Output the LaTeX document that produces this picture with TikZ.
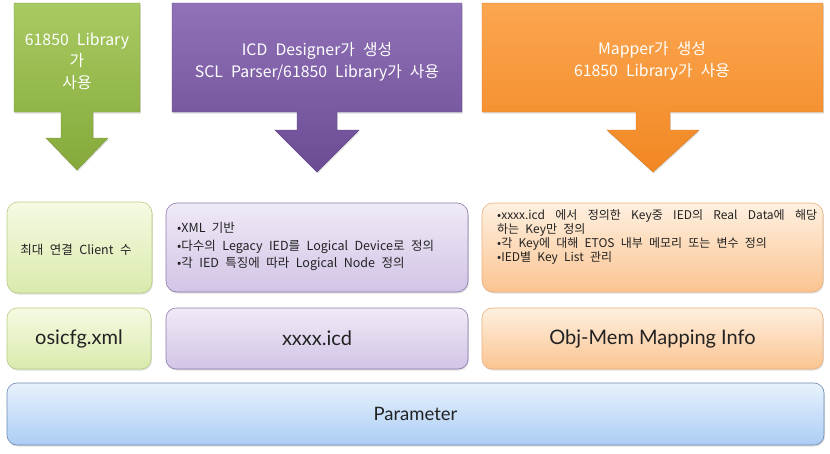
\documentclass[tikz,border=0pt]{standalone}
\usepackage{fontspec}
\setmainfont{Noto Sans CJK KR}
\newfontfamily\krfont[WordSpace=1.5]{Noto Sans CJK KR}
\newfontfamily\krwide[WordSpace=2.3]{Noto Sans CJK KR}
\newfontfamily\latfont{Lato}
\usetikzlibrary{shadows}
\definecolor{gTop}{HTML}{A8CA62}
\definecolor{gBot}{HTML}{85A93A}
\definecolor{pTop}{HTML}{9172B8}
\definecolor{pBot}{HTML}{6B4C94}
\definecolor{oTop}{HTML}{FCA651}
\definecolor{oBot}{HTML}{F18722}
\definecolor{glTop}{HTML}{F5FAE2}
\definecolor{glBot}{HTML}{DAEAAD}
\definecolor{glBd}{HTML}{B7CD85}
\definecolor{plTop}{HTML}{F0EAF7}
\definecolor{plBot}{HTML}{D2C4E6}
\definecolor{plBd}{HTML}{8C7AAC}
\definecolor{olTop}{HTML}{FEF0E0}
\definecolor{olBot}{HTML}{FBC491}
\definecolor{olBd}{HTML}{E8B07C}
\definecolor{blTop}{HTML}{E8F2FD}
\definecolor{blBot}{HTML}{ABCDF4}
\definecolor{blBd}{HTML}{6D89AE}
\definecolor{txt}{HTML}{222222}
\tikzset{
  shad/.style={drop shadow={shadow xshift=0.8pt,shadow yshift=-1.5pt,opacity=0.25}},
  callg/.style={top color=gTop,bottom color=gBot,draw=gBot!90!black,line width=0.4pt,shad},
  callp/.style={top color=pTop,bottom color=pBot,draw=pBot!90!black,line width=0.4pt,shad},
  callo/.style={top color=oTop,bottom color=oBot,draw=oBot!90!black,line width=0.4pt,shad},
  headtext/.style={text=white,align=center,font=\krfont\fontsize{15.8}{21.5}\selectfont},
  rbox/.style={rounded corners=11pt,line width=0.6pt,shad,inner sep=0pt},
  gbox/.style={rbox,top color=glTop,bottom color=glBot,draw=glBd},
  pbox/.style={rbox,top color=plTop,bottom color=plBot,draw=plBd},
  obox/.style={rbox,top color=olTop,bottom color=olBot,draw=olBd},
  bbox/.style={rbox,top color=blTop,bottom color=blBot,draw=blBd},
  midtext/.style={text=txt,align=left,inner sep=0pt,font=\krwide\fontsize{12.5}{17.5}\selectfont},
  bottext/.style={text=txt,font=\latfont\fontsize{20}{24}\selectfont}
}
\begin{document}
\begin{tikzpicture}[x=1pt,y=-1pt]
\useasboundingbox (0,0) rectangle (830,453);
\fill[white] (0,0) rectangle (830,453);
% callouts
\path[callg] (14,3) -- (140,3) -- (140,112) -- (93,112) -- (93,138) -- (108,138) -- (77,170)
  -- (46,138) -- (61,138) -- (61,112) -- (14,112) -- cycle;
\path[callp] (172,3) -- (462,3) -- (462,112) -- (337,112) -- (337,130) -- (359,130) -- (317,172)
  -- (275,130) -- (297,130) -- (297,112) -- (172,112) -- cycle;
\path[callo] (482,3) -- (823,3) -- (823,112) -- (670,112) -- (670,130) -- (699,130) -- (653,172)
  -- (607,130) -- (636,130) -- (636,112) -- (482,112) -- cycle;
\node[headtext] (gh) at (77,61) {61850 Library\\가\\사용};
\node[headtext] (ph) at (317,62) {ICD Designer가 생성\\SCL Parser/61850 Library가 사용};
\node[headtext] (oh) at (652,61) {Mapper가 생성\\61850 Library가 사용};
% middle row
\node[gbox,minimum width=145pt,minimum height=91pt] (gm) at (79.5,247.5) {};
\node[pbox,minimum width=302pt,minimum height=89pt] (pm) at (317,247.5) {};
\node[obox,minimum width=341pt,minimum height=89pt] (om) at (652.5,247.5) {};
\node[midtext,align=center] (gmt) at (76,250) {최대 연결 Client 수};
\node[midtext,anchor=north west] (pmt) at (177,222) {•XML 기반\\•다수의 Legacy IED를 Logical Device로 정의\\•각 IED 특징에 따라 Logical Node 정의};
\node[midtext,anchor=north west,font=\krwide\fontsize{12}{14.2}\selectfont] (omt) at (497,209)
  {\makebox[320pt][s]{•xxxx.icd 에서 정의한 Key중 IED의 Real Data에 해당}\\하는 Key만 정의\\•각 Key에 대해 ETOS 내부 메모리 또는 변수 정의\\•IED별 Key List 관리};
% bottom row
\node[gbox,rounded corners=10pt,minimum width=144pt,minimum height=61pt] (gb) at (79,338.5) {};
\node[pbox,rounded corners=10pt,minimum width=302pt,minimum height=61pt] (pb) at (317,338.5) {};
\node[obox,rounded corners=10pt,minimum width=341pt,minimum height=61pt] (ob) at (652.5,338.5) {};
\node[bbox,rounded corners=10pt,minimum width=817pt,minimum height=62pt] (pa) at (415.5,414) {};
\node[bottext] at (gb) {osicfg.xml};
\node[bottext] at (pb) {xxxx.icd};
\node[bottext] at (ob) {Obj-Mem Mapping Info};
\node[bottext,font=\latfont\fontsize{18.5}{22}\selectfont] at (pa) {Parameter};
\end{tikzpicture}
\end{document}
